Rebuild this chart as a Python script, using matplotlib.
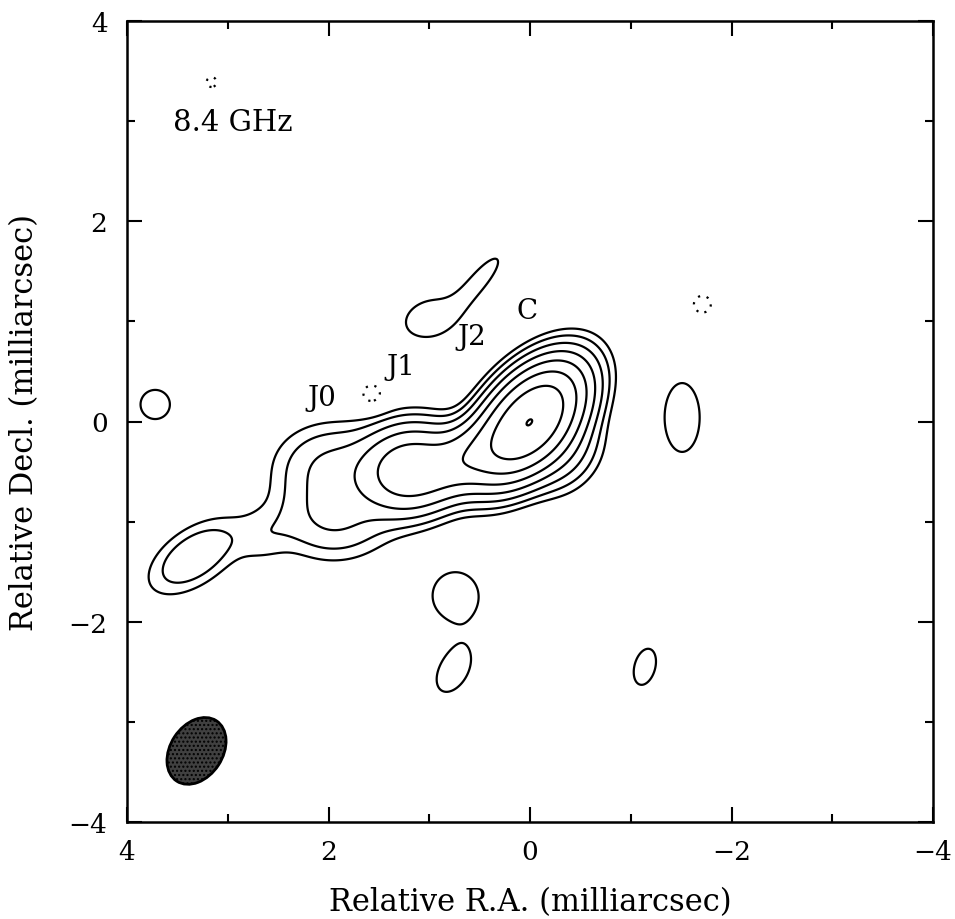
# Mapa de contornos VLBI a 8.4 GHz
import numpy as np
import matplotlib
matplotlib.use('Agg')
import matplotlib.pyplot as plt
from matplotlib.patches import Ellipse

# Componentes do jato (gaussianas ja convolvidas), intensidade relativa
comp_x = [0.0, -0.3, 0.6, 1.2, 1.95, 1.95, 2.65, 3.33]
comp_y = [0.0, -0.3, -0.35, -0.48, -0.45, -0.95, -1.15, -1.35]
comp_amp = [100.0, 4.0, 17.0, 20.0, 3.3, 3.3, 1.0, 2.9]
comp_maj = [0.82, 0.6, 0.7, 0.65, 0.6, 0.6, 0.5, 0.75]
comp_min = [0.48, 0.5, 0.42, 0.56, 0.8, 0.8, 0.4, 0.4]
comp_pa = [-40, -40, -60, -72, 0, 0, -60, -55]

# Ilhas de ruido (positivas e negativas)
noise_x = [1.0, 0.47, 3.72, -1.51, 0.74, 0.76, -1.14, 1.57, 3.16, -1.71]
noise_y = [1.03, 1.45, 0.17, 0.04, -1.74, -2.49, -2.45, 0.27, 3.39, 1.17]
noise_amp = [1.05, 1.0, 1.2, 1.2, 1.2, 1.1, 1.0, -1.1, -0.85, -0.9]
noise_maj = [0.7, 0.7, 0.36, 0.85, 0.58, 0.63, 0.59, 0.26, 0.25, 0.35]
noise_min = [0.5, 0.22, 0.36, 0.43, 0.56, 0.38, 0.33, 0.26, 0.25, 0.35]
noise_pa = [-70, -40, 0, 0, 0, -30, -15, 0, 0, 0]

# Niveis de contorno (% do pico)
levels = [-0.75, 0.75, 1.5, 3, 6, 12, 24, 48, 99.5]

# Feixe sintetizado
beam_x, beam_y = 3.31, -3.29
beam_maj, beam_min, beam_pa = 0.72, 0.52, -33

# Rotulos dos componentes
label_text = ['J0', 'J1', 'J2', 'C']
label_x = [2.07, 1.28, 0.58, 0.03]
label_y = [0.24, 0.55, 0.85, 1.11]


#  Soma de gaussianas elipticas (PA medido de norte para leste)
def gauss_map(X, Y, xs, ys, amps, majs, mins, pas):
    img = np.zeros_like(X)
    for x0, y0, a, fmaj, fmin, pa in zip(xs, ys, amps, majs, mins, pas):
        t = np.radians(pa)
        dx, dy = X - x0, Y - y0
        u = dx * np.sin(t) + dy * np.cos(t)
        v = dx * np.cos(t) - dy * np.sin(t)
        img += a * np.exp(-4 * np.log(2) * ((u / fmaj) ** 2 + (v / fmin) ** 2))
    return img


grid = np.linspace(-4, 4, 801)
X, Y = np.meshgrid(grid, grid)
Z = gauss_map(X, Y, comp_x, comp_y, comp_amp, comp_maj, comp_min, comp_pa)
Z += gauss_map(X, Y, noise_x, noise_y, noise_amp, noise_maj, noise_min, noise_pa)
Z = 100 * Z / Z.max()

plt.rcParams['font.family'] = 'DejaVu Serif'

fig = plt.figure(figsize=(9.55, 9.2), dpi=100)
ax = fig.add_axes([127 / 955, 97 / 920, 806 / 955, 801 / 920])

styles = [(0, (1, 3)) if l < 0 else 'solid' for l in levels]
ax.contour(X, Y, Z, levels=levels, colors='black', linewidths=1.6,
           linestyles=styles)

ang = 90 - beam_pa
ax.add_patch(Ellipse((beam_x, beam_y), beam_maj, beam_min, angle=ang,
                     facecolor='0.25', edgecolor='black', lw=2, hatch='....'))

for t, x, y in zip(label_text, label_x, label_y):
    ax.text(x, y, t, fontsize=20, ha='center', va='center')
ax.text(2.95, 2.99, '8.4 GHz', fontsize=21, ha='center', va='center')

ax.set_xlim(4, -4)
ax.set_ylim(-4, 4)
ax.set_xticks([4, 2, 0, -2, -4])
ax.set_yticks([-4, -2, 0, 2, 4])
ax.set_xticks([3, 1, -1, -3], minor=True)
ax.set_yticks([-3, -1, 1, 3], minor=True)
ax.tick_params(which='both', direction='in', top=True, right=True,
               labelsize=19, width=1.5)
ax.tick_params(which='major', length=11)
ax.tick_params(which='minor', length=6)
ax.tick_params(axis='x', pad=12)
ax.tick_params(axis='y', pad=14)
for s in ax.spines.values():
    s.set_linewidth(1.8)

ax.set_xlabel('Relative R.A. (milliarcsec)', fontsize=22)
ax.set_ylabel('Relative Decl. (milliarcsec)', fontsize=22)
ax.xaxis.set_label_coords(0.5, -0.08)
ax.yaxis.set_label_coords(-0.108, 0.5)

fig.savefig('out.png', dpi=100)
